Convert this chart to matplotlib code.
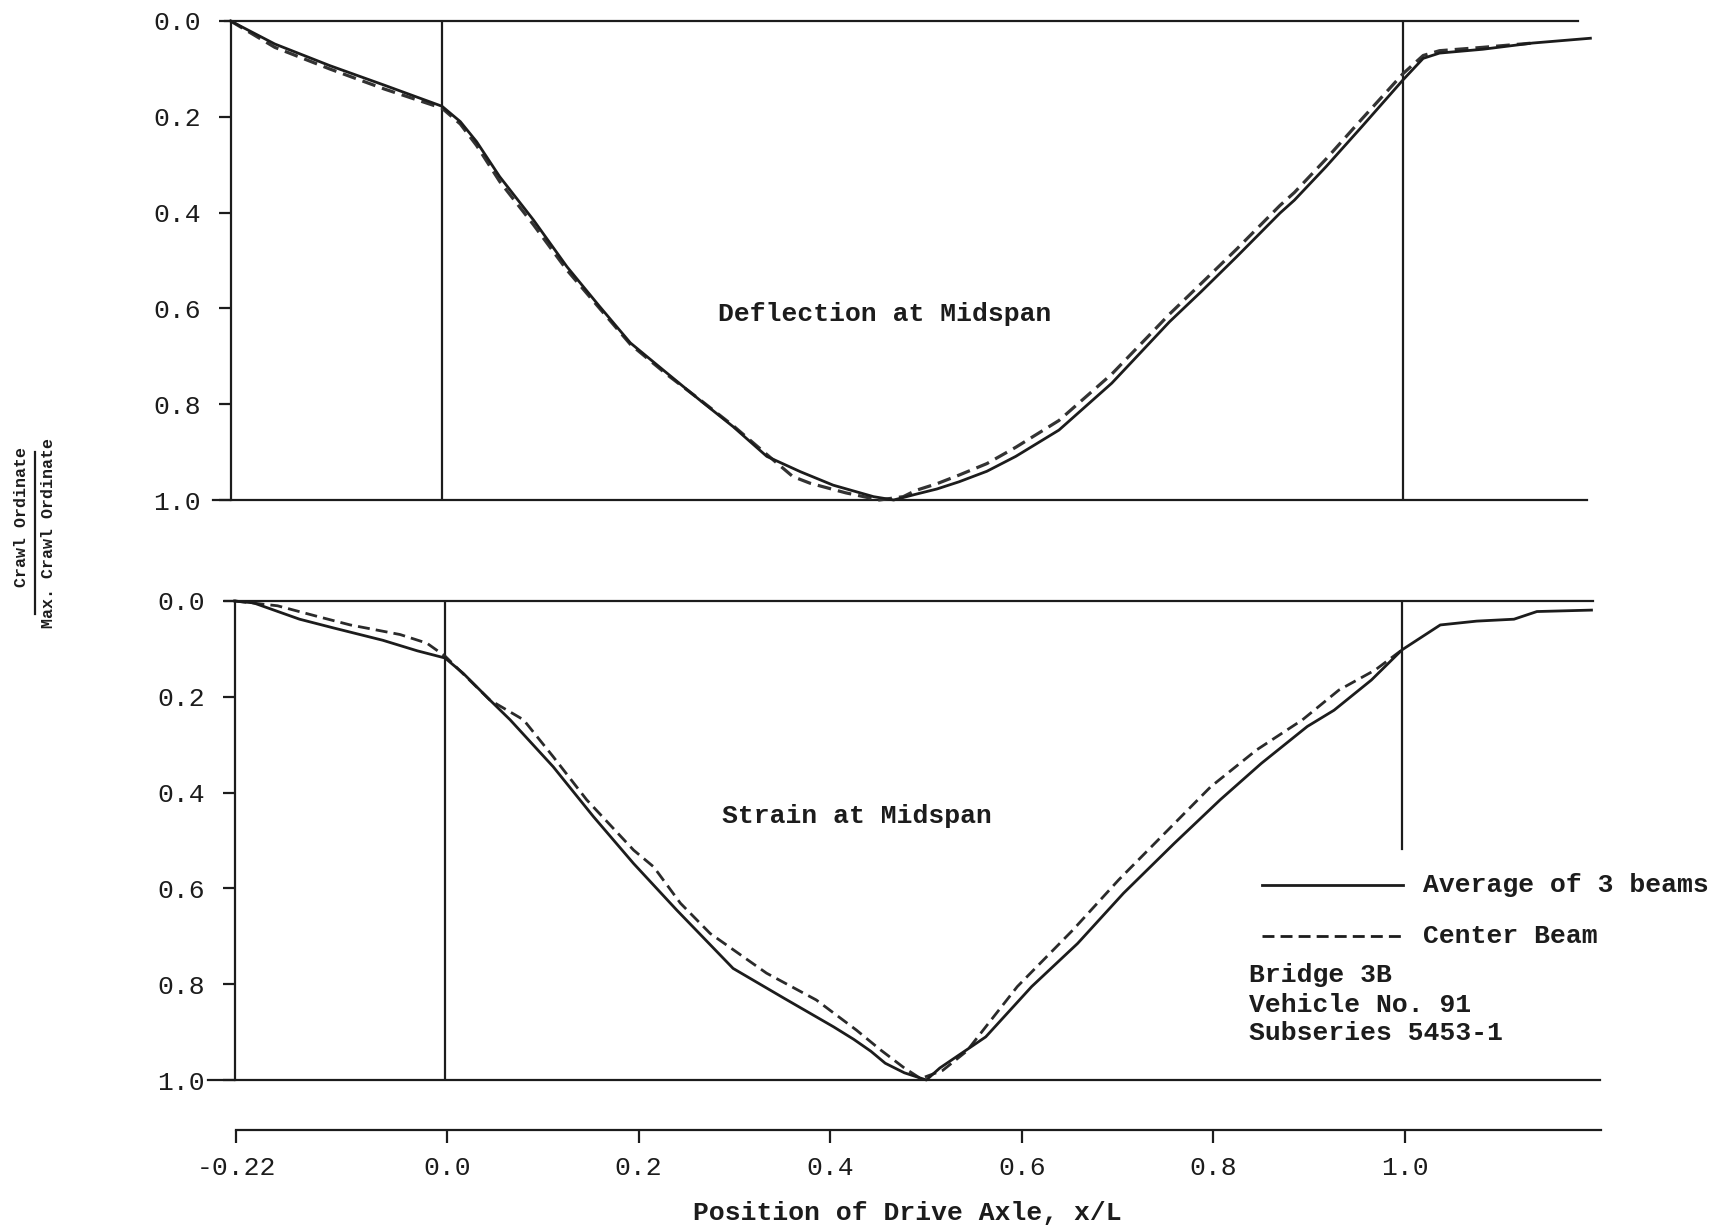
import matplotlib
matplotlib.use("Agg")
import matplotlib.pyplot as plt
from matplotlib.lines import Line2D

# ---------------- data ----------------
yticks = [0.0, 0.2, 0.4, 0.6, 0.8, 1.0]
ytick_labels = ["0.0", "0.2", "0.4", "0.6", "0.8", "1.0"]
xticks = [-0.22, 0.0, 0.2, 0.4, 0.6, 0.8, 1.0]
xtick_labels = ["-0.22", "0.0", "0.2", "0.4", "0.6", "0.8", "1.0"]

# Deflection at midspan - average of 3 beams
defl_avg_x = [-0.22, -0.174, -0.117, -0.060, 0.0, 0.019, 0.036, 0.060, 0.095, 0.130,
              0.164, 0.196, 0.234, 0.268, 0.303, 0.338, 0.373, 0.407, 0.449, 0.470,
              0.493, 0.515, 0.538, 0.567, 0.597, 0.642, 0.697, 0.735, 0.757, 0.790,
              0.827, 0.872, 0.887, 0.920, 0.957, 1.0, 1.021, 1.038, 1.083, 1.135, 1.195]
defl_avg_y = [0.0, 0.048, 0.093, 0.134, 0.178, 0.21, 0.252, 0.325, 0.415, 0.513,
              0.596, 0.672, 0.735, 0.791, 0.847, 0.909, 0.941, 0.969, 0.993, 1.0,
              0.988, 0.977, 0.962, 0.940, 0.909, 0.854, 0.756, 0.675, 0.628, 0.565,
              0.492, 0.401, 0.374, 0.304, 0.221, 0.123, 0.078, 0.067, 0.059, 0.046, 0.036]

# Deflection at midspan - center beam
defl_ctr_x = [-0.22, -0.174, -0.117, -0.060, 0.0, 0.019, 0.036, 0.060, 0.095, 0.130,
              0.164, 0.196, 0.234, 0.268, 0.303, 0.338, 0.365, 0.383, 0.420, 0.455,
              0.480, 0.493, 0.515, 0.538, 0.567, 0.597, 0.642, 0.697, 0.735, 0.757,
              0.790, 0.827, 0.872, 0.887, 0.920, 0.957, 1.0, 1.021, 1.038, 1.083, 1.135]
defl_ctr_y = [0.0, 0.055, 0.100, 0.142, 0.182, 0.215, 0.260, 0.335, 0.425, 0.520,
              0.600, 0.675, 0.738, 0.790, 0.845, 0.905, 0.951, 0.965, 0.985, 1.0,
              0.993, 0.980, 0.966, 0.948, 0.924, 0.890, 0.834, 0.737, 0.658, 0.612,
              0.548, 0.476, 0.385, 0.358, 0.288, 0.205, 0.110, 0.072, 0.062, 0.055, 0.046]

# Strain at midspan - average of 3 beams
strain_avg_x = [-0.22, -0.20, -0.152, -0.117, -0.065, -0.029, 0.0, 0.019, 0.047, 0.068,
                0.113, 0.155, 0.197, 0.242, 0.301, 0.354, 0.406, 0.427, 0.445, 0.460,
                0.480, 0.503, 0.517, 0.565, 0.613, 0.661, 0.709, 0.762, 0.810, 0.853,
                0.901, 0.929, 0.968, 1.0, 1.04, 1.078, 1.117, 1.141, 1.198]
strain_avg_y = [0.0, 0.004, 0.038, 0.056, 0.082, 0.104, 0.119, 0.151, 0.207, 0.248,
                0.346, 0.450, 0.548, 0.645, 0.767, 0.829, 0.889, 0.915, 0.940, 0.965,
                0.985, 1.0, 0.975, 0.910, 0.805, 0.715, 0.610, 0.506, 0.415, 0.339,
                0.262, 0.228, 0.165, 0.102, 0.050, 0.042, 0.038, 0.022, 0.019]

# Strain at midspan - center beam
strain_ctr_x = [-0.22, -0.175, -0.13, -0.099, -0.047, -0.019, 0.0, 0.047, 0.082, 0.113,
                0.148, 0.197, 0.218, 0.246, 0.277, 0.336, 0.388, 0.430, 0.455, 0.480,
                0.497, 0.520, 0.545, 0.598, 0.656, 0.704, 0.752, 0.800, 0.848, 0.896,
                0.934, 0.972, 1.0]
strain_ctr_y = [0.0, 0.010, 0.034, 0.050, 0.070, 0.088, 0.115, 0.207, 0.248, 0.325,
                0.415, 0.520, 0.555, 0.631, 0.694, 0.777, 0.833, 0.896, 0.937, 0.975,
                0.997, 0.980, 0.940, 0.805, 0.687, 0.582, 0.485, 0.388, 0.311, 0.248,
                0.186, 0.144, 0.102]

# ---------------- style ----------------
W, H = 1718, 1228
INK = "#1c1c1c"
FONT = ["Liberation Mono", "DejaVu Sans Mono"]
plt.rcParams["font.family"] = FONT
FS = 19
LW_FRAME = 1.6
LW_CURVE = 2.0
DASH = (0, (4.3, 2.2))

fig = plt.figure(figsize=(W / 100, H / 100), dpi=100)
fig.patch.set_facecolor("white")


def panel(rect):
    ax = fig.add_axes(rect)
    ax.set_xlim(-0.22, 1.2)
    ax.set_ylim(1.0, 0.0)
    for s in ["top", "right", "bottom"]:
        ax.spines[s].set_visible(False)
    ax.spines["left"].set_linewidth(LW_FRAME)
    ax.spines["left"].set_color(INK)
    ax.set_xticks([])
    ax.set_yticks(yticks)
    ax.set_yticklabels(ytick_labels)
    ax.tick_params(axis="y", direction="out", length=8.6, width=LW_FRAME,
                   color=INK, labelsize=FS, labelcolor=INK, pad=13)
    ax.patch.set_alpha(0)
    return ax


# top panel
ax1 = panel([230.6 / W, 1 - 500 / H, (1595.2 - 230.6) / W, 479 / H])
ax1.plot([-0.226, 1.182], [0.0, 0.0], color=INK, lw=LW_FRAME, clip_on=False)
ax1.plot([-0.238, 1.191], [1.0, 1.0], color=INK, lw=LW_FRAME, clip_on=False)
ax1.plot([0.0, 0.0], [0.0, 1.0], color=INK, lw=LW_FRAME)
ax1.plot([1.0, 1.0], [0.0, 1.0], color=INK, lw=LW_FRAME)
ax1.plot(defl_ctr_x, defl_ctr_y, color="#333333", lw=LW_CURVE + 0.3, linestyle=DASH,
         clip_on=False)
ax1.plot(defl_avg_x, defl_avg_y, color=INK, lw=LW_CURVE, clip_on=False)
ax1.text(0.461, 0.612, "Deflection at Midspan", ha="center", va="center",
         fontsize=FS, fontweight="bold", color=INK)

# bottom panel
ax2 = panel([234.5 / W, 1 - 1080 / H, (1593.4 - 234.5) / W, 479 / H])
ax2.plot([-0.23, 1.2], [0.0, 0.0], color=INK, lw=LW_FRAME, clip_on=False)
ax2.plot([-0.248, 1.207], [1.0, 1.0], color=INK, lw=LW_FRAME, clip_on=False)
ax2.plot([0.0, 0.0], [0.0, 1.0], color=INK, lw=LW_FRAME)
ax2.plot([1.0, 1.0], [0.0, 0.518], color=INK, lw=LW_FRAME)
ax2.plot(strain_ctr_x, strain_ctr_y, color="#2a2a2a", lw=LW_CURVE, linestyle=DASH,
         clip_on=False)
ax2.plot(strain_avg_x, strain_avg_y, color=INK, lw=LW_CURVE, clip_on=False)
ax2.text(0.43, 0.449, "Strain at Midspan", ha="center", va="center",
         fontsize=FS, fontweight="bold", color=INK)

# legend (hand-placed as in the original)
ax2.add_line(Line2D([0.854, 1.001], [0.592, 0.592], color=INK, lw=LW_CURVE,
                    clip_on=False))
ax2.add_line(Line2D([0.854, 1.001], [0.700, 0.700], color=INK, lw=LW_CURVE,
                    linestyle=DASH, clip_on=False))
ax2.text(1.022, 0.592, "Average of 3 beams", ha="left", va="center",
         fontsize=FS, fontweight="bold", color=INK, clip_on=False)
ax2.text(1.022, 0.700, "Center Beam", ha="left", va="center",
         fontsize=FS, fontweight="bold", color=INK, clip_on=False)
ax2.text(0.840, 0.781, "Bridge 3B", ha="left", va="center",
         fontsize=FS, fontweight="bold", color=INK)
ax2.text(0.840, 0.843, "Vehicle No. 91", ha="left", va="center",
         fontsize=FS, fontweight="bold", color=INK)
ax2.text(0.840, 0.902, "Subseries 5453-1", ha="left", va="center",
         fontsize=FS, fontweight="bold", color=INK)

# common x axis
ax3 = fig.add_axes([236.2 / W, 1 - 1130 / H, (1601.4 - 236.2) / W, 0.0001])
ax3.set_xlim(-0.22, 1.205)
for s in ["top", "right", "left"]:
    ax3.spines[s].set_visible(False)
ax3.spines["bottom"].set_linewidth(LW_FRAME)
ax3.spines["bottom"].set_color(INK)
ax3.set_yticks([])
ax3.set_xticks(xticks)
ax3.set_xticklabels(xtick_labels)
ax3.tick_params(axis="x", direction="out", length=9.4, width=LW_FRAME, color=INK,
                labelsize=FS, labelcolor=INK, pad=9)
ax3.patch.set_alpha(0)

fig.text(907 / W, 1 - 1213 / H, "Position of Drive Axle, x/L", ha="center",
         va="center", fontsize=FS, fontweight="bold", color=INK)

# y label (fraction)
fig.text(22 / W, 1 - 517 / H, "Crawl Ordinate", rotation=90, ha="center",
         va="center", fontsize=12, fontweight="bold", color=INK)
fig.text(49 / W, 1 - 533 / H, "Max. Crawl Ordinate", rotation=90, ha="center",
         va="center", fontsize=12, fontweight="bold", color=INK)
fig.add_artist(Line2D([35 / W, 35 / W], [1 - 452 / H, 1 - 614 / H], color=INK,
                      lw=1.6, transform=fig.transFigure))

fig.savefig("out.png", dpi=100, facecolor="white")
